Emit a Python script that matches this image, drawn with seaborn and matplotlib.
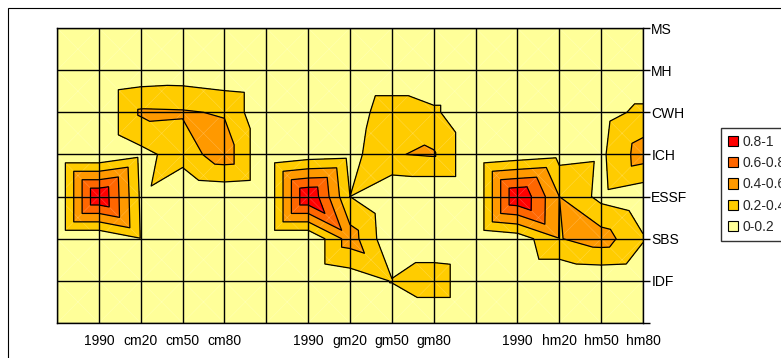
import numpy as np
import matplotlib
matplotlib.use("Agg")
import matplotlib.pyplot as plt
import matplotlib.tri as mtri
from matplotlib.patches import Patch, Rectangle
import seaborn as sns

# categories along x (blank columns separate the three groups)
x_labels = ["", "1990", "cm20", "cm50", "cm80",
            "", "1990", "gm20", "gm50", "gm80",
            "", "1990", "hm20", "hm50", "hm80"]
# zones along y, bottom to top
zones = ["", "IDF", "SBS", "ESSF", "ICH", "CWH", "MH", "MS"]

# values, one list per zone
blank = [0, 0, 0, 0, 0, 0, 0, 0, 0, 0, 0, 0, 0, 0, 0]
idf = [0, 0, 0, 0, 0, 0, 0, 0.07, 0.21, 0.33, 0, 0, 0, 0.02, 0]
sbs = [0, 0, 0.19, 0, 0, 0, 0, 0.5, 0.03, 0.03, 0, 0.08, 0.39, 0.5, 0.22]
essf = [0, 1.0, 0.17, 0, 0.03, 0, 1.0, 0.2, 0, 0, 0, 1.0, 0.40, 0.14, 0.05]
ich = [0, 0, 0.14, 0.29, 0.52, 0, 0.09, 0.12, 0.39, 0.42, 0, 0.07, 0.13, 0.16, 0.5]
cwh = [0, 0, 0.43, 0.42, 0.38, 0, 0, 0.08, 0.33, 0.24, 0, 0, 0, 0.12, 0.25]
mh = [0, 0, 0.05, 0.07, 0.03, 0, 0, 0, 0, 0, 0, 0, 0, 0, 0]
ms = [0, 0, 0, 0, 0, 0, 0, 0, 0, 0, 0, 0, 0, 0, 0]

band_labels = ["0.8-1", "0.6-0.8", "0.4-0.6", "0.2-0.4", "0-0.2"]
band_colors = ["#FF0000", "#FF6600", "#FF9900", "#FFCC00", "#FFFF99"]
levels = [0, 0.2, 0.4, 0.6, 0.8, 1.0]

sns.set_style("white")
plt.rcParams["font.family"] = ["Liberation Sans", "DejaVu Sans"]

z = np.array([blank, idf, sbs, essf, ich, cwh, mh, ms], dtype=float)
ny, nx = z.shape

# Excel draws its contour surface by splitting each cell into four
# triangles around the cell centre; the centre takes the larger of the
# two diagonal averages, which gives the square rings round a peak
gx, gy = np.meshgrid(np.arange(nx), np.arange(ny))
cx, cy = np.meshgrid(np.arange(nx - 1) + 0.5, np.arange(ny - 1) + 0.5)
diag1 = (z[:-1, :-1] + z[1:, 1:]) / 2
diag2 = (z[:-1, 1:] + z[1:, :-1]) / 2
cz = np.maximum(diag1, diag2)
px = np.concatenate([gx.ravel(), cx.ravel()])
py = np.concatenate([gy.ravel(), cy.ravel()])
pz = np.concatenate([z.ravel(), cz.ravel()])
tris = []
for j in range(ny - 1):
    for i in range(nx - 1):
        a = j * nx + i
        b = a + 1
        c = a + nx + 1
        d = a + nx
        m = nx * ny + j * (nx - 1) + i
        tris += [[a, b, m], [b, c, m], [c, d, m], [d, a, m]]
tri = mtri.Triangulation(px, py, tris)

W, H = 781, 358
fig = plt.figure(figsize=(W / 100, H / 100), dpi=100)
ax = fig.add_axes([57 / W, 1 - 323 / H, (643 - 57) / W, (323 - 28) / H])

ax.tricontourf(tri, pz, levels=levels, colors=band_colors[::-1])
# faint cell diagonals, as Excel leaves them
ax.triplot(tri, color="white", linewidth=0.4, alpha=0.25)
ax.tricontour(tri, pz, levels=levels[1:-1], colors="black", linewidths=0.9)

ax.set_xlim(0, nx - 1)
ax.set_ylim(0, ny - 1)
ax.set_xticks(range(nx))
ax.set_xticklabels(x_labels)
ax.set_yticks(range(ny))
ax.set_yticklabels(zones)
ax.yaxis.tick_right()
ax.tick_params(axis="both", direction="out", length=5, width=1,
               color="black", labelsize=10, labelcolor="black")
ax.tick_params(axis="y", pad=1)
ax.tick_params(axis="x", pad=3)
ax.grid(True, color="black", linewidth=1)
ax.set_axisbelow(False)
for s in ax.spines.values():
    s.set_color("black")
    s.set_linewidth(1)
    s.set_zorder(3)

handles = [Patch(facecolor=c, edgecolor="black", linewidth=0.8) for c in band_colors]
leg = fig.legend(handles, band_labels, loc="upper left",
                 bbox_to_anchor=(721 / W, 1 - 128 / H), frameon=True,
                 fancybox=False, edgecolor="black", fontsize=10,
                 handlelength=0.75, handleheight=0.75, handletextpad=0.3,
                 borderpad=0.5, labelspacing=0.52, borderaxespad=0)
leg.get_frame().set_linewidth(1)

# chart area border (runs off the right and bottom of the image)
fig.patches.append(Rectangle((8 / W, -0.1), 1.2, 1.1 - 8 / H,
                             transform=fig.transFigure, fill=False,
                             edgecolor="black", linewidth=0.8))

fig.savefig("out.png", dpi=100)
